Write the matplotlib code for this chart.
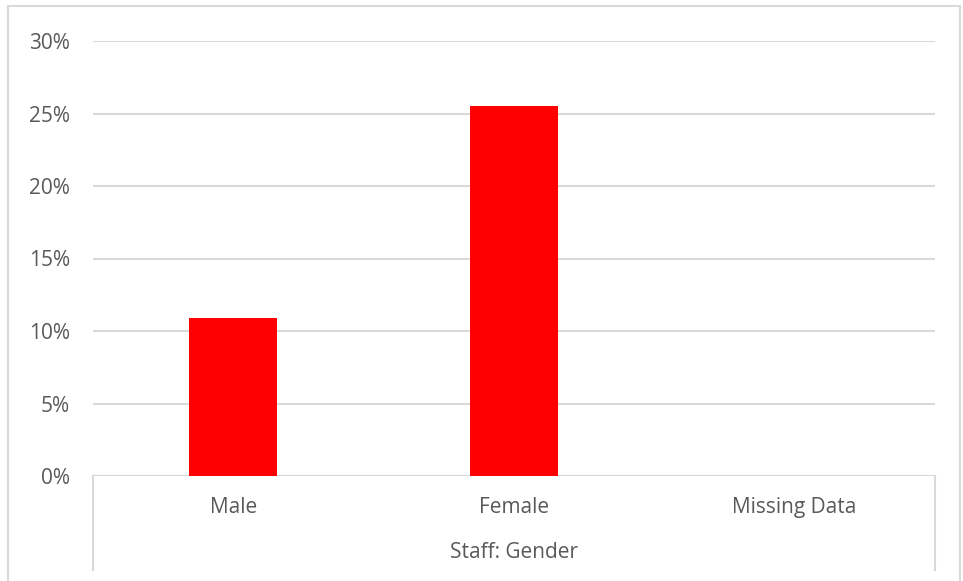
import matplotlib
matplotlib.use("Agg")
import matplotlib.pyplot as plt
from matplotlib.lines import Line2D
from matplotlib.patches import Rectangle

categories = ["Male", "Female", "Missing Data"]
values = [0.109, 0.255, 0.0]
yticks = [0, 0.05, 0.10, 0.15, 0.20, 0.25, 0.30]
ytick_labels = ["0%", "5%", "10%", "15%", "20%", "25%", "30%"]
axis_title = "Staff: Gender"

W, H = 963, 581
fig = plt.figure(figsize=(W / 100, H / 100), dpi=100)
plt.rcParams['font.family'] = ['Open Sans', 'DejaVu Sans']
txt = '#595959'
grid = '#d9d9d9'
fs = 15

l, r, b, t = 93, 935, 476, 41
ax = fig.add_axes([l / W, 1 - b / H, (r - l) / W, (b - t) / H])
x = list(range(len(categories)))
ax.bar(x, values, width=0.313, color='#ff0000', zorder=3)
ax.set_xlim(-0.5, len(categories) - 0.5)
ax.set_ylim(0, 0.30)
ax.set_yticks(yticks)
ax.set_yticklabels(ytick_labels, color=txt, fontsize=fs)
ax.tick_params(axis='y', length=0, pad=16.5)
ax.set_xticks([])
for s in ['top', 'right', 'left', 'bottom']:
    ax.spines[s].set_visible(False)
ax.yaxis.grid(True, color=grid, linewidth=1.5, zorder=0)
ax.axhline(0, color=grid, linewidth=1.5, zorder=2)

for i, c in enumerate(categories):
    ax.text(i, -0.022, c, ha='center', va='center', color=txt, fontsize=fs,
            transform=ax.transData, clip_on=False)

# multi-level axis box lines
for xp in (l, r):
    fig.add_artist(Line2D([xp / W, xp / W], [1 - b / H, 1 - 570 / H], color=grid, linewidth=1.5))
fig.text((l + r) / 2 / W, 1 - 553 / H, axis_title, ha='center', va='center', color=txt, fontsize=fs)

# chart border
fig.add_artist(Rectangle((8 / W, -0.1), (960 - 8) / W, 1.1 - 6 / H, transform=fig.transFigure,
                         fill=False, edgecolor=grid, linewidth=1.5))

fig.savefig("out.png", dpi=100, facecolor='white')
